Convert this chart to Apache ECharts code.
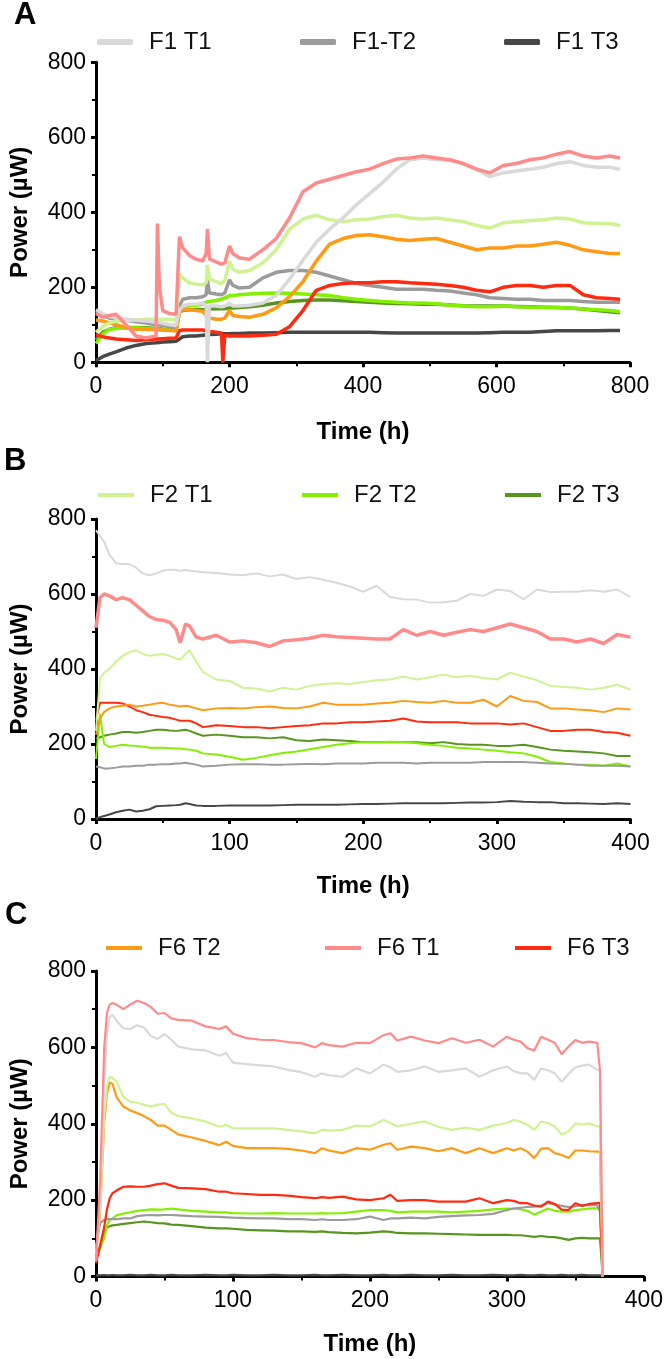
<!DOCTYPE html>
<html>
<head>
<meta charset="utf-8">
<script src="https://cdn.jsdelivr.net/npm/echarts@6/dist/echarts.min.js"></script>
<style>
  html, body { margin: 0; padding: 0; background: #fff; }
  #chart { width: 666px; height: 1359px; }
</style>
</head>
<body>
<div id="chart"></div>
<script>
// ---- panel A (0-800 h) ----
const timeA = [0,10,20,30,45,60,75,90, 92,95,100,110,120,125,130,140, 150,160,165,167,170,180,188,190,
  193,200,205,215,230,250,270,290, 310,330,350,370,390,410,430,450, 470,490,510,530,550,570,590,610,
  630,650,670,690,710,730,750,770, 785];
const aF1T1 = [140,130,122,118,115,112,110,107, 107,106,104,100,98,140,150,155, 155,158,150,0,150,150,148,150,
  150,158,150,150,152,158,178,222, 272,320,355,385,420,450,480,515, 540,545,540,538,530,515,495,505,
  510,515,520,530,535,525,520,520, 515];
const aF1T2 = [135,125,118,115,112,108,105,100, 100,100,98,95,90,150,168,172, 172,175,180,218,185,182,180,182,
  185,220,205,198,200,225,240,245, 245,240,230,220,210,205,200,195, 195,195,192,190,185,180,172,170,
  168,168,165,165,165,162,160,160, 160];
const aF1T3 = [5,15,22,28,38,45,50,52, 52,53,54,55,56,62,68,70, 70,72,73,74,74,75,76,76,
  76,76,77,77,78,78,79,80, 80,80,80,80,80,80,79,78, 78,78,78,78,78,78,79,80,
  80,80,82,84,84,84,84,85, 85];
const aF2T1 = [80,95,105,110,112,113,115,115, 115,115,115,115,112,235,225,212, 208,207,212,260,222,215,210,212,
  218,270,248,240,245,265,300,355, 382,392,380,375,380,382,388,392, 385,382,385,380,375,365,358,372,
  375,378,380,385,382,372,370,370, 365];
const aF2T2 = [50,75,88,90,92,92,90,88, 88,88,87,86,85,140,148,150, 152,155,160,162,162,165,168,170,
  172,178,178,180,182,184,185,184, 182,180,178,172,168,165,162,160, 158,158,156,152,150,148,148,150,
  148,147,146,146,145,142,140,138, 135];
const aF2T3 = [60,80,88,92,93,93,92,90, 90,90,88,86,85,135,138,140, 140,140,140,142,142,143,143,143,
  143,145,145,146,148,152,158,162, 165,166,166,164,162,160,158,157, 156,155,155,153,151,150,150,150,
  149,148,147,146,145,142,138,135, 132];
const aF6T1 = [130,120,125,128,100,70,65,70, 370,200,138,130,128,335,305,285, 275,270,290,355,275,268,262,262,
  265,310,290,278,275,300,330,385, 455,478,488,498,508,515,530,542, 545,550,545,540,530,515,505,525,
  530,540,545,555,562,550,545,550, 545];
const aF6T2 = [113,110,105,100,92,88,88,87, 87,86,86,85,84,135,140,140, 138,136,125,120,118,115,115,115,
  118,138,125,122,120,128,145,175, 215,270,315,330,338,340,335,328, 325,328,330,320,310,300,305,305,
  310,310,315,320,312,300,295,290, 290];
const aF6T3 = [73,68,65,62,60,58,60,62, 62,62,63,64,65,85,86,86, 86,86,84,82,82,80,78,0,
  72,70,70,70,70,72,75,95, 138,192,205,210,212,212,215,215, 212,210,208,205,200,192,188,200,
  205,205,200,205,205,180,172,170, 168];

// ---- panel B (0-400 h) ----
const timeB = [0,3,6,10,15,20,25,30, 35,40,45,50,55,60,63,67, 70,75,80,90,100,110,120,130,
  140,150,160,170,180,190,200,210, 220,230,240,250,260,270,280,290, 300,310,320,330,340,350,360,370,
  380,390,400];
const bF1T1 = [770,755,740,705,682,680,680,670, 655,650,655,662,665,664,662,664, 662,660,658,656,652,650,655,647,
  652,640,645,638,630,620,606,622, 592,586,585,577,578,582,600,595, 612,608,586,612,605,606,606,610,
  606,612,592];
const bF1T2 = [140,138,135,135,137,140,140,142, 142,145,145,146,146,148,148,150, 148,145,140,142,145,146,146,145,
  145,146,147,146,148,148,148,150, 150,150,148,150,150,150,150,152, 152,152,152,150,148,147,145,142,
  142,142,140];
const bF1T3 = [0,5,8,12,18,22,25,20, 22,26,34,35,36,37,38,42, 40,36,35,35,36,36,36,36,
  37,38,38,38,38,39,40,40, 41,42,42,42,42,43,44,44, 45,48,46,45,45,42,42,41,
  40,42,40];
const bF2T1 = [235,375,390,400,420,435,445,450, 440,435,438,440,435,428,425,440, 450,420,392,372,368,350,348,340,
  350,345,355,360,362,360,365,370, 372,380,372,378,385,378,382,376, 372,390,380,370,355,352,350,345,
  350,358,345];
const bF2T2 = [160,280,200,192,195,198,196,195, 193,190,190,190,189,188,188,186, 185,182,175,172,166,158,163,170,
  176,180,186,192,198,202,205,205, 206,205,202,198,195,190,188,185, 182,178,175,166,152,148,145,145,
  142,148,140];
const bF2T3 = [215,218,222,225,228,232,232,230, 232,235,238,238,236,235,236,238, 235,228,222,225,222,218,218,215,
  218,210,208,212,210,208,205,205, 205,205,205,202,205,200,198,198, 195,195,198,192,185,182,180,178,
  175,168,168];
const bF6T1 = [510,590,600,595,585,590,585,570, 555,540,532,530,525,505,470,520, 515,485,480,490,472,475,470,460,
  475,478,482,490,486,484,482,480, 480,505,490,500,490,498,505,500, 510,520,510,500,480,480,472,480,
  468,492,485];
const bF6T2 = [225,268,285,295,300,302,305,300, 302,305,308,310,305,302,300,302, 300,295,290,295,296,295,298,300,
  296,295,300,310,305,305,305,308, 310,315,312,310,315,310,310,318, 300,328,315,312,295,295,292,290,
  285,295,292];
const bF6T3 = [265,310,310,310,310,308,300,290, 285,278,275,272,270,265,262,262, 262,255,245,250,248,245,245,242,
  245,248,250,255,255,258,258,260, 262,268,260,258,258,258,255,255, 255,252,255,245,235,235,238,238,
  232,230,222];

// ---- panel C (0-370 h, axis to 400) ----
const timeC = [0,3,6,8,10,12,15,20, 25,30,35,40,45,50,55,60, 70,80,90,95,100,110,120,130,
  140,150,160,165,170,180,190,200, 210,215,220,230,240,250,260,270, 280,290,300,305,310,315,320,325,
  330,335,340,345,350,355,360,366, 368,370];
const cF1T1 = [40,200,500,640,680,685,670,650, 648,658,652,630,622,635,620,602, 595,592,578,585,560,556,553,550,
  541,535,523,532,527,523,545,532, 555,548,536,540,550,536,540,545, 523,540,550,538,532,532,515,545,
  540,532,510,530,548,552,555,541, 540,0];
const cF1T2 = [80,140,148,150,150,150,150,152, 152,158,160,161,160,161,161,160, 158,157,156,155,154,153,152,152,
  150,150,148,150,148,148,150,157, 148,152,152,154,152,156,158,160, 161,164,174,178,180,182,183,186,
  192,188,185,182,184,186,187,187, 170,0];
const cF1T3 = [3,3,4,3,3,4,3,3, 4,3,3,4,3,3,4,3, 3,4,3,3,4,3,3,4, 3,3,4,3,3,4,3,3,
  4,3,3,4,3,3,4,3, 3,4,3,3,4,3,3,4, 3,3,4,3,3,4,3,3, 3,3];
const cF2T1 = [60,180,420,500,523,520,510,470, 458,455,450,445,450,452,428,420, 414,406,392,397,388,388,388,388,
  384,380,375,384,382,384,395,393, 410,402,393,400,406,392,384,390, 384,395,402,410,405,397,384,406,
  402,393,372,380,401,398,401,393, 393,0];
const cF2T2 = [60,75,100,135,148,152,160,165, 168,172,174,176,175,176,178,176, 172,170,168,168,166,165,165,166,
  165,165,165,166,165,166,170,174, 174,172,168,170,170,170,168,170, 172,176,178,178,176,172,162,170,
  178,172,170,170,174,176,178,179, 178,0];
const cF2T3 = [50,80,120,128,132,134,135,138, 140,142,144,142,140,139,136,135, 132,128,126,126,125,122,121,120,
  118,118,117,118,116,114,113,115, 118,117,114,113,113,112,111,110, 109,109,109,108,108,106,104,106,
  104,103,100,96,100,101,100,100, 100,0];
const cF6T1 = [40,250,600,690,712,716,712,700, 712,722,716,706,688,690,676,672, 670,655,648,655,636,624,620,619,
  614,611,600,611,606,602,612,611, 632,637,618,628,618,611,624,612, 620,602,628,620,615,598,592,628,
  620,612,582,602,619,612,615,612, 540,0];
const cF6T2 = [60,170,400,480,508,505,470,445, 435,428,420,410,395,395,384,372, 364,355,344,353,342,336,336,336,
  334,330,323,336,330,323,336,332, 345,349,332,340,336,328,336,323, 336,323,336,330,336,327,310,335,
  336,323,318,310,330,330,328,327, 327,0];
const cF6T3 = [35,80,130,175,205,218,225,235, 236,235,235,238,242,244,238,232, 231,229,222,222,218,216,214,214,
  212,208,205,208,206,209,202,200, 205,214,198,200,200,196,196,196, 205,192,200,198,192,192,186,183,
  196,190,175,174,192,185,190,192, 192,0];

const xTicksA = [0, 800, 200];
const xTicksBC = [0, 400, 100];
const yTicks = [0, 800, 200];

const names = ['F1 T1', 'F1-T2', 'F1 T3', 'F2 T1', 'F2 T2', 'F2 T3', 'F6 T2', 'F6 T1', 'F6 T3'];
const colors = {
    'F1 T1': '#d9d9d9',
    'F1-T2': '#9b9b9b',
    'F1 T3': '#474747',
    'F2 T1': '#cff293',
    'F2 T2': '#82f000',
    'F2 T3': '#58951f',
    'F6 T2': '#ff9a14',
    'F6 T1': '#ff8a8a',
    'F6 T3': '#ff2a10',
};

const FONT = "'Liberation Sans', Arial, sans-serif";

const panels = [
    {time: timeA, widths: 3.5, salmonWidth: 3.5,
        values: {'F1 T1': aF1T1, 'F1-T2': aF1T2, 'F1 T3': aF1T3, 'F2 T1': aF2T1, 'F2 T2': aF2T2,
            'F2 T3': aF2T3, 'F6 T2': aF6T2, 'F6 T1': aF6T1, 'F6 T3': aF6T3}},
    {time: timeB, widths: 2, salmonWidth: 3.5,
        values: {'F1 T1': bF1T1, 'F1-T2': bF1T2, 'F1 T3': bF1T3, 'F2 T1': bF2T1, 'F2 T2': bF2T2,
            'F2 T3': bF2T3, 'F6 T2': bF6T2, 'F6 T1': bF6T1, 'F6 T3': bF6T3}},
    {time: timeC, widths: 2.2, salmonWidth: 2.2,
        values: {'F1 T1': cF1T1, 'F1-T2': cF1T2, 'F1 T3': cF1T3, 'F2 T1': cF2T1, 'F2 T2': cF2T2,
            'F2 T3': cF2T3, 'F6 T2': cF6T2, 'F6 T1': cF6T1, 'F6 T3': cF6T3}},
];

const drawOrder = ['F1 T3', 'F2 T3', 'F2 T2', 'F1-T2', 'F6 T3', 'F6 T2', 'F2 T1', 'F1 T1', 'F6 T1'];

const grids = [
    {left: 90, top: 62.3, width: 540, height: 300},
    {left: 89.5, top: 519, width: 541, height: 300},
    {left: 94.5, top: 971, width: 550, height: 305.5},
];

function makeXAxis(idx, ticks, gap) {
    return {
        gridIndex: idx,
        type: 'value',
        min: ticks[0],
        max: ticks[1],
        interval: ticks[2],
        name: 'Time (h)',
        nameLocation: 'middle',
        nameGap: gap,
        nameTextStyle: {fontFamily: FONT, fontWeight: 'bold', fontSize: 24, color: '#000'},
        axisLine: {lineStyle: {color: '#000', width: 3}},
        axisTick: {length: 5, lineStyle: {color: '#000', width: 3}},
        minorTick: {show: true, splitNumber: 2, length: 4, lineStyle: {color: '#000', width: 2}},
        axisLabel: {fontFamily: FONT, fontSize: 23, color: '#000', margin: 13},
        splitLine: {show: false},
    };
}

function makeYAxis(idx) {
    return {
        gridIndex: idx,
        type: 'value',
        min: yTicks[0],
        max: yTicks[1],
        interval: yTicks[2],
        name: 'Power (µW)',
        nameLocation: 'middle',
        nameGap: 64,
        nameTextStyle: {fontFamily: FONT, fontWeight: 'bold', fontSize: 24, color: '#000'},
        axisLine: {show: true, lineStyle: {color: '#000', width: 3}},
        axisTick: {show: true, length: 5, lineStyle: {color: '#000', width: 3}},
        minorTick: {show: true, splitNumber: 2, length: 4, lineStyle: {color: '#000', width: 2}},
        axisLabel: {fontFamily: FONT, fontSize: 23, color: '#000', margin: 10},
        splitLine: {show: false},
    };
}

const series = [];
panels.forEach((p, idx) => {
    drawOrder.forEach((name) => {
        const vals = p.values[name];
        series.push({
            name: name,
            type: 'line',
            xAxisIndex: idx,
            yAxisIndex: idx,
            data: p.time.map((t, i) => [t, vals[i]]),
            showSymbol: false,
            symbol: 'none',
            color: colors[name],
            lineStyle: {color: colors[name], width: name === 'F6 T1' ? p.salmonWidth : p.widths},
            itemStyle: {color: colors[name]},
            animation: false,
        });
    });
});

// legend rows: [name, icon left, row centre y, icon height]
const legendRows = [
    ['F1 T1', 97, 42, 6], ['F1-T2', 300, 42, 6], ['F1 T3', 504, 42, 6],
    ['F2 T1', 98, 495, 4], ['F2 T2', 302, 495, 4], ['F2 T3', 505, 495, 4],
    ['F6 T2', 106, 948, 4], ['F6 T1', 325, 948, 4], ['F6 T3', 515, 948, 4],
];

const legends = legendRows.map((r) => ({
    data: [r[0]],
    left: r[1],
    top: r[2] - 14,
    padding: 0,
    itemWidth: 36,
    itemHeight: r[3],
    icon: r[3] > 5 ? 'roundRect' : 'rect',
    selectedMode: false,
    textStyle: {fontFamily: FONT, fontSize: 24, color: '#111', padding: [0, 0, 0, 11], lineHeight: 28},
}));

const titles = [['A', 14, 0], ['B', 4, 446], ['C', 5, 900]].map((t) => ({
    text: t[0],
    left: t[1],
    top: t[2],
    padding: 0,
    textStyle: {fontFamily: FONT, fontWeight: 'bold', fontSize: 31, color: '#000'},
}));

const option = {
    backgroundColor: '#fff',
    animation: false,
    title: titles,
    legend: legends,
    grid: grids,
    xAxis: [makeXAxis(0, xTicksA, 58), makeXAxis(1, xTicksBC, 55), makeXAxis(2, xTicksBC, 56)],
    yAxis: [makeYAxis(0), makeYAxis(1), makeYAxis(2)],
    series: series,
};

const chart = echarts.init(document.getElementById('chart'));
chart.setOption(option);
window.addEventListener('resize', () => chart.resize());
</script>
</body>
</html>
